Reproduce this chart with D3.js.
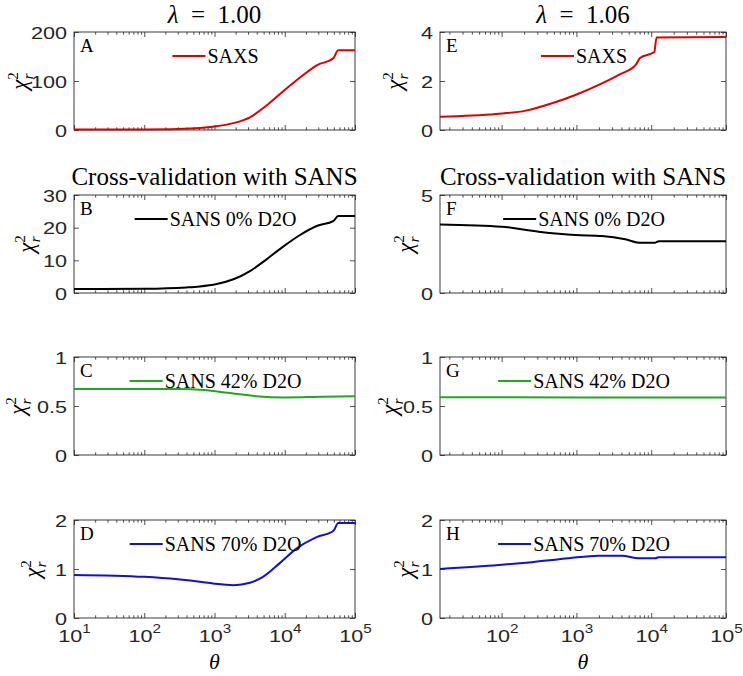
<!DOCTYPE html>
<html><head><meta charset="utf-8">
<script src="https://cdn.jsdelivr.net/npm/d3@7"></script>
<style>body{margin:0;background:#fff}svg{display:block}</style>
</head><body><svg id="chart" width="743" height="676"></svg>
<script>
// ---------------- DATA ----------------
const columnTitles = ["λ", "λ"];
const columnValues = ["1.00", "1.06"];
const rowTitle = "Cross-validation with SANS";
const panelLetters = ["A", "B", "C", "D", "E", "F", "G", "H"];
const legendLabels = ["SAXS", "SANS 0% D2O", "SANS 42% D2O", "SANS 70% D2O"];
const xDomainLeft = [10, 100000];
const xDomainRight = [15, 100000];
const xTicksLeft = [10, 100, 1000, 10000, 100000];
const xTicksRight = [100, 1000, 10000, 100000];
const yTicksA = [0, 100, 200];
const yTicksB = [0, 10, 20, 30];
const yTicksC = [0, 0.5, 1];
const yTicksD = [0, 1, 2];
const yTicksE = [0, 2, 4];
const yTicksF = [0, 5];
const yTicksG = [0, 0.5, 1];
const yTicksH = [0, 1, 2];

// lambda = 1.00
const A_theta = [10, 100, 300, 617, 1000, 1860, 3200, 5500, 9500, 16500, 28500, 49500, 57600, 100000];
const A_chi2  = [1, 1.2, 2, 4, 7, 14, 26, 50, 79, 107, 132, 147, 163, 163];
const B_theta = [10, 100, 400, 617, 1075, 1860, 3200, 5500, 9500, 16500, 28500, 49500, 57600, 100000];
const B_chi2  = [1.2, 1.3, 1.7, 2.0, 2.75, 4.2, 6.7, 10.3, 14.2, 17.75, 20.5, 22.1, 23.6, 23.6];
const C_theta = [10, 324, 705, 1530, 3900, 10000, 34000, 100000];
const C_chi2  = [0.673, 0.673, 0.663, 0.636, 0.600, 0.588, 0.595, 0.600];
const D_theta = [10, 100, 300, 700, 1000, 1860, 3200, 4900, 8500, 14800, 28500, 49500, 57600, 100000];
const D_chi2  = [0.88, 0.84, 0.79, 0.73, 0.70, 0.67, 0.72, 0.84, 1.12, 1.42, 1.65, 1.78, 1.94, 1.94];
// lambda = 1.06
const E_theta = [15, 84, 211, 482, 986, 2020, 3740, 6250, 7080, 11000, 11800, 100000];
const E_chi2  = [0.54, 0.65, 0.79, 1.10, 1.44, 1.85, 2.26, 2.67, 2.94, 3.18, 3.78, 3.80];
const F_theta = [15, 101, 313, 966, 2200, 4500, 6800, 11300, 12600, 100000];
const F_chi2  = [3.5, 3.38, 3.13, 2.96, 2.91, 2.74, 2.57, 2.57, 2.64, 2.64];
const G_theta = [15, 1000, 100000];
const G_chi2  = [0.590, 0.588, 0.586];
const H_theta = [15, 92, 255, 790, 1990, 4070, 6800, 11300, 12600, 100000];
const H_chi2  = [1.0, 1.08, 1.14, 1.22, 1.27, 1.27, 1.22, 1.22, 1.24, 1.24];

// ---------------- LAYOUT / STYLE ----------------
const W = 743, H = 676;
const colLeft = [74, 440], colRight = [355, 726];
const rowTop = [32, 195, 357, 520], plotH = 98;
const seriesColors = ["#e00000", "#000000", "#22a81f", "#1010d8"];
const ylabelOffsets = [47, 40, 49, 34, 38, 27, 43, 27];
const SERIF = "'Liberation Serif','Times New Roman',serif";
const SANS = "'Liberation Sans',Arial,sans-serif";
const AXC = "#262626";
const TICK_FS = 17, TICK_SX = 1.27;

const svg = d3.select("#chart");
svg.append("rect").attr("width", W).attr("height", H).attr("fill", "#fff");

const panels = [
  {col:0,row:0,theta:A_theta,chi2:A_chi2,yTicks:yTicksA},
  {col:0,row:1,theta:B_theta,chi2:B_chi2,yTicks:yTicksB},
  {col:0,row:2,theta:C_theta,chi2:C_chi2,yTicks:yTicksC},
  {col:0,row:3,theta:D_theta,chi2:D_chi2,yTicks:yTicksD},
  {col:1,row:0,theta:E_theta,chi2:E_chi2,yTicks:yTicksE},
  {col:1,row:1,theta:F_theta,chi2:F_chi2,yTicks:yTicksF},
  {col:1,row:2,theta:G_theta,chi2:G_chi2,yTicks:yTicksG},
  {col:1,row:3,theta:H_theta,chi2:H_chi2,yTicks:yTicksH}
];

function minorTicks(dom) {
  const out = [];
  for (let e = 0; e <= 5; e++) for (let k = 2; k <= 9; k++) {
    const v = k * Math.pow(10, e);
    if (v > dom[0] && v < dom[1]) out.push(v);
  }
  return out;
}
function stretchText(sel, sx) {
  sel.each(function () {
    const t = d3.select(this);
    const x = +t.attr("x") || 0, y = +t.attr("y") || 0;
    t.attr("x", 0).attr("y", 0).attr("transform", `translate(${x},${y}) scale(${sx},1)`);
  });
}
function styleAxis(g) {
  g.select(".domain").remove();
  g.selectAll(".tick line").attr("stroke", AXC).attr("stroke-width", 0.8);
  g.selectAll(".tick text").attr("fill", AXC).attr("font-family", SANS).attr("font-size", TICK_FS);
}

panels.forEach((p, i) => {
  const x0 = colLeft[p.col], x1 = colRight[p.col];
  const y0 = rowTop[p.row], y1 = y0 + plotH;
  const dom = p.col === 0 ? xDomainLeft : xDomainRight;
  const majors = p.col === 0 ? xTicksLeft : xTicksRight;
  const x = d3.scaleLog().domain(dom).range([x0, x1]);
  const y = d3.scaleLinear().domain([0, d3.max(p.yTicks)]).range([y1, y0]);
  const g = svg.append("g");
  const bottomRow = p.row === 3;

  // axes
  const gb = g.append("g").attr("transform", `translate(0,${y1})`)
    .call(d3.axisBottom(x).tickValues(majors).tickSize(-5).tickFormat(() => ""));
  styleAxis(gb);
  const gbm = g.append("g").attr("transform", `translate(0,${y1})`)
    .call(d3.axisBottom(x).tickValues(minorTicks(dom)).tickSize(-2.7).tickFormat(() => ""));
  styleAxis(gbm);
  const gt = g.append("g").attr("transform", `translate(0,${y0})`)
    .call(d3.axisTop(x).tickValues(majors).tickSize(-5).tickFormat(() => ""));
  styleAxis(gt);
  const gtm = g.append("g").attr("transform", `translate(0,${y0})`)
    .call(d3.axisTop(x).tickValues(minorTicks(dom)).tickSize(-2.7).tickFormat(() => ""));
  styleAxis(gtm);
  const gl = g.append("g").attr("transform", `translate(${x0},0)`)
    .call(d3.axisLeft(y).tickValues(p.yTicks).tickSize(-5).tickPadding(7).tickFormat(d => String(d)));
  styleAxis(gl);
  stretchText(gl.selectAll(".tick text").attr("dy", null).attr("dominant-baseline", "central"), TICK_SX);
  const gr = g.append("g").attr("transform", `translate(${x1},0)`)
    .call(d3.axisRight(y).tickValues(p.yTicks).tickSize(-5).tickFormat(() => ""));
  styleAxis(gr);

  if (bottomRow) {
    gb.selectAll(".tick text").each(function (d) {
      const t = d3.select(this);
      t.text(null).attr("dy", null).attr("y", 24).attr("text-anchor", "middle");
      t.append("tspan").text("10");
      t.append("tspan").attr("font-size", 12).attr("dy", -9).text(String(Math.round(Math.log10(d))));
    });
    stretchText(gb.selectAll(".tick text"), TICK_SX);
    g.append("text").attr("x", (x0 + x1) / 2).attr("y", 669).attr("text-anchor", "middle")
      .attr("font-family", SERIF).attr("font-style", "italic").attr("font-size", 22)
      .attr("fill", "#000").text("θ");
  }

  // box
  g.append("rect").attr("x", x0).attr("y", y0).attr("width", x1 - x0).attr("height", plotH)
    .attr("fill", "none").attr("stroke", AXC).attr("stroke-width", 0.9);

  // data line
  const line = d3.line().x(d => x(d[0])).y(d => y(d[1])).curve(d3.curveMonotoneX);
  g.append("path").datum(d3.zip(p.theta, p.chi2)).attr("d", line)
    .attr("fill", "none").attr("stroke", seriesColors[p.row]).attr("stroke-width", 2);

  // panel letter
  g.append("text").attr("x", x0 + 6).attr("y", y0 + 20).attr("font-family", SERIF)
    .attr("font-size", 19).attr("fill", "#000").text(panelLetters[i]);

  // legend
  const lg = g.append("g");
  const lt = lg.append("text").attr("font-family", SERIF).attr("font-size", 20).attr("fill", "#000")
    .attr("y", y0 + 24 + 7).text(legendLabels[p.row]);
  const tw = lt.node().getComputedTextLength();
  const total = 33 + 2 + tw;
  const sx = (x0 + x1) / 2 - total / 2 + 1;
  lg.append("line").attr("x1", sx).attr("x2", sx + 33).attr("y1", y0 + 24).attr("y2", y0 + 24)
    .attr("stroke", seriesColors[p.row]).attr("stroke-width", 2);
  lt.attr("x", sx + 35);

  // y label
  const yl = g.append("text")
    .attr("transform", `translate(${x0 - ylabelOffsets[i]},${(y0 + y1) / 2}) rotate(-90)`)
    .attr("text-anchor", "middle").attr("font-family", SERIF).attr("font-size", 23).attr("fill", "#000");
  yl.append("tspan").attr("font-style", "italic").text("χ");
  yl.append("tspan").attr("font-size", 15).attr("dy", -9).text("2");
  yl.append("tspan").attr("font-size", 15).attr("font-style", "italic").attr("dx", -7).attr("dy", 15).text("r");

  // titles
  if (p.row === 0) {
    const tt = g.append("text").attr("x", (x0 + x1) / 2).attr("y", 23).attr("text-anchor", "middle")
      .attr("font-family", SERIF).attr("font-size", 25).attr("fill", "#000");
    tt.append("tspan").attr("font-style", "italic").text(columnTitles[p.col]);
    tt.append("tspan").text("\u2002=\u2002" + columnValues[p.col]);
  }
  if (p.row === 1) {
    g.append("text").attr("x", (x0 + x1) / 2).attr("y", 185).attr("text-anchor", "middle")
      .attr("font-family", SERIF).attr("font-size", 25).attr("fill", "#000").text(rowTitle);
  }
});
</script></body></html>
